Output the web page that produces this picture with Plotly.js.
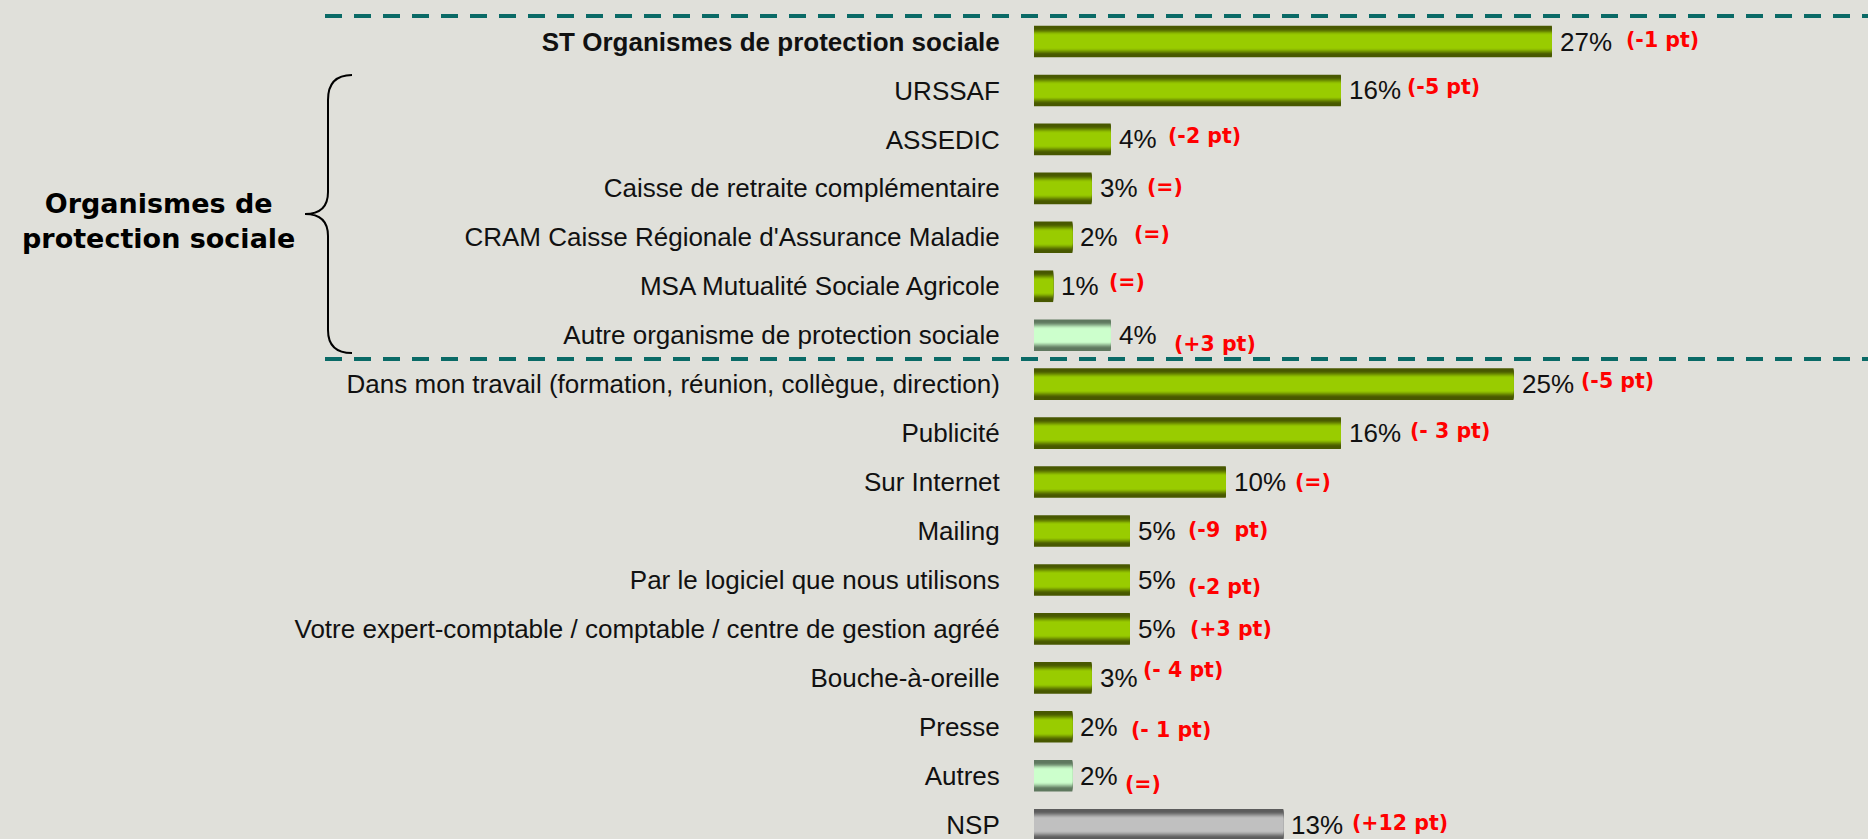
<!DOCTYPE html>
<html>
<head>
<meta charset="utf-8">
<script src="https://cdn.plot.ly/plotly-3.0.1.min.js"></script>
<style>
  html, body { margin: 0; padding: 0; background: #e0e0da; }
  #chart { width: 1868px; height: 839px; }
</style>
</head>
<body>
<div id="chart"></div>
<script>
// ---------- DATA ----------
const categories = [
  "ST Organismes de protection sociale",
  "URSSAF",
  "ASSEDIC",
  "Caisse de retraite complémentaire",
  "CRAM Caisse Régionale d'Assurance Maladie",
  "MSA Mutualité Sociale Agricole",
  "Autre organisme de protection sociale",
  "Dans mon travail (formation, réunion, collègue, direction)",
  "Publicité",
  "Sur Internet",
  "Mailing",
  "Par le logiciel que nous utilisons",
  "Votre expert-comptable / comptable / centre de gestion agréé",
  "Bouche-à-oreille",
  "Presse",
  "Autres",
  "NSP"
];
const values = [27, 16, 4, 3, 2, 1, 4, 25, 16, 10, 5, 5, 5, 3, 2, 2, 13];
const deltas = [
  "(-1 pt)", "(-5 pt)", "(-2 pt)", "(=)", "(=)", "(=)", "(+3 pt)",
  "(-5 pt)", "(- 3 pt)", "(=)", "(-9\u00a0 pt)", "(-2 pt)", "(+3 pt)",
  "(- 4 pt)", "(- 1 pt)", "(=)", "(+12 pt)"
];
const groupLabel = "Organismes de<br>protection sociale";

// ---------- STYLE / LAYOUT HELPERS (not data) ----------
const barStyle = ["g","g","g","g","g","g","l","g","g","g","g","g","g","g","g","l","n"];
const deltaDx = [72, 64, 55, 53, 60, 54, 61, 65, 67, 67, 56, 56, 58, 49, 57, 51, 67];
const deltaDy = [-2, -3, -3, -1, -3, -4, 9, -3, -2, 0, -1, 7, 0, -8, 3, 8, -2];

const W = 1868, H = 839;
const px = x => x / W;
const py = y => 1 - y / H;

const palettes = {
  g: { edge: [72, 88, 0],   mid: [153, 204, 0] },
  l: { edge: [95, 120, 95], mid: [204, 255, 204] },
  n: { edge: [92, 92, 92],  mid: [192, 192, 192] }
};
function mix(a, b, t) {
  return "rgb(" + a.map((v, i) => Math.round(v + (b[i] - v) * t)).join(",") + ")";
}

// vertical gradient simulated with overlaid, centred bars of decreasing thickness
const BAR_W = 0.646;
const N = 16;
const traces = [];
for (let k = 0; k < N; k++) {
  const f = k / N;
  let t = Math.max(0, Math.min(1, (f - 0.12) / 0.46));
  t = t * t * (3 - 2 * t);
  const w = BAR_W * (1 - f);
  traces.push({
    type: "bar",
    orientation: "h",
    x: values,
    y: categories,
    width: w,
    offset: -w / 2,
    marker: {
      color: barStyle.map(s => mix(palettes[s].edge, palettes[s].mid, t)),
      line: { width: 0 }
    },
    hoverinfo: "skip",
    showlegend: false
  });
  if (t >= 1) break;
}

const labelFont = "Liberation Sans, Arial, sans-serif";
const annotations = [];
categories.forEach((c, i) => {
  annotations.push({
    xref: "x", yref: "y", x: values[i], y: c,
    text: values[i] + "%",
    xanchor: "left", yanchor: "middle", xshift: 6,
    showarrow: false,
    font: { family: labelFont, size: 26, color: "#111111" }
  });
  annotations.push({
    xref: "x", yref: "y", x: values[i], y: c,
    text: "<b>" + deltas[i] + "</b>",
    xanchor: "left", yanchor: "middle",
    xshift: deltaDx[i], yshift: -deltaDy[i],
    showarrow: false,
    font: { family: "DejaVu Sans, sans-serif", size: 20.5, color: "#ff0000" }
  });
});
annotations.push({
  xref: "paper", yref: "paper", x: px(158), y: py(221),
  xanchor: "center", yanchor: "middle", align: "center",
  text: "<b>" + groupLabel + "</b>",
  showarrow: false,
  font: { family: "DejaVu Sans, sans-serif", size: 27, color: "#000000" }
});

const brace = [
  "M", px(352), py(75),
  "C", px(336), py(75), px(328), py(83), px(328), py(100),
  "L", px(328), py(192),
  "C", px(328), py(207), px(320), py(214), px(305), py(214),
  "C", px(320), py(214), px(328), py(221), px(328), py(236),
  "L", px(328), py(330),
  "C", px(328), py(346), px(336), py(353), px(352), py(353)
];
const bracePath = (function () {
  let s = "", nums = [];
  const flush = () => { for (let j = 0; j < nums.length; j += 2) s += nums[j].toFixed(5) + "," + nums[j + 1].toFixed(5) + " "; nums = []; };
  brace.forEach(v => { if (typeof v === "string") { flush(); s += v + " "; } else nums.push(v); });
  flush();
  return s.trim();
})();

const shapes = [
  { type: "line", xref: "paper", yref: "paper", x0: px(325), x1: 1, y0: py(16), y1: py(16),
    line: { color: "#0a6a66", width: 4, dash: "17px,12px" } },
  { type: "line", xref: "paper", yref: "paper", x0: px(325), x1: 1, y0: py(359), y1: py(359),
    line: { color: "#0a6a66", width: 4, dash: "17px,12px" } },
  { type: "path", xref: "paper", yref: "paper", path: bracePath,
    line: { color: "#000000", width: 2 } }
];

const layout = {
  width: W, height: H,
  paper_bgcolor: "#e0e0da",
  plot_bgcolor: "#e0e0da",
  margin: { l: 0, r: 0, t: 0, b: 0, pad: 0 },
  barmode: "overlay",
  showlegend: false,
  xaxis: {
    domain: [1034 / W, 1],
    range: [0, 43.48],
    visible: false,
    fixedrange: true
  },
  yaxis: {
    type: "category",
    categoryorder: "array",
    categoryarray: categories,
    range: [16.292, -0.848],
    tickmode: "array",
    tickvals: categories,
    ticktext: categories.map((c, i) => i === 0 ? "<b>" + c + "</b>" : c),
    ticks: "outside",
    ticklen: 28,
    tickcolor: "rgba(0,0,0,0)",
    tickfont: { family: labelFont, size: 26, color: "#111111" },
    showgrid: false, zeroline: false, showline: false,
    automargin: false,
    fixedrange: true
  },
  annotations: annotations,
  shapes: shapes
};

Plotly.newPlot("chart", traces, layout, { displayModeBar: false, staticPlot: true });
</script>
</body>
</html>
